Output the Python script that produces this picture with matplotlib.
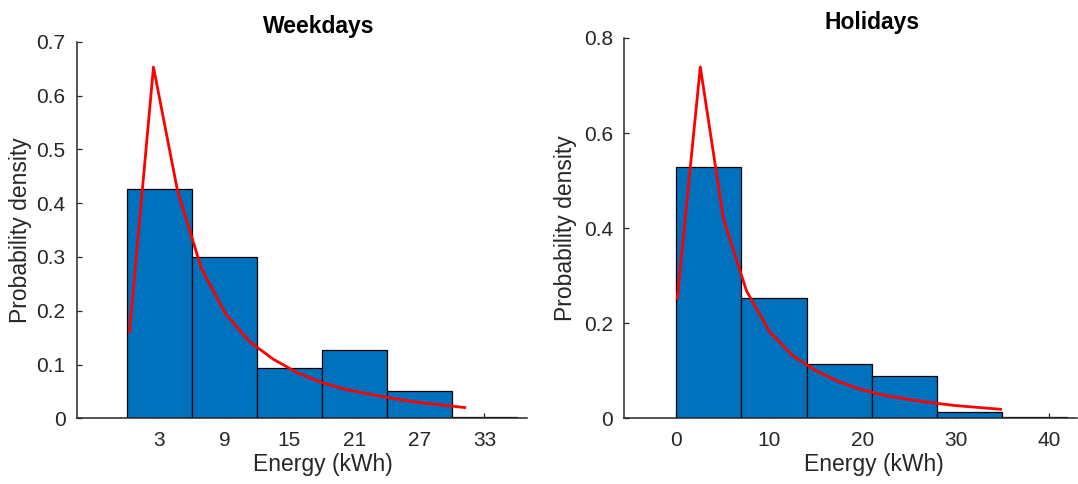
import matplotlib
matplotlib.use("Agg")
import matplotlib.pyplot as plt

plt.rcParams['font.family'] = ['Liberation Sans', 'DejaVu Sans']

# Weekdays histogram (bin edges in kWh, probability per bin)
wk_edges = [0, 6, 12, 18, 24, 30, 36]
wk_heights = [0.426, 0.299, 0.093, 0.127, 0.050, 0.002]
# fitted pdf, sampled points
wk_fit_x = [0.24, 2.45, 4.66, 6.87, 9.08, 11.29, 13.50, 15.71, 17.92, 20.13,
            22.34, 24.55, 26.76, 28.97, 31.18]
wk_fit_y = [0.161, 0.653, 0.424, 0.279, 0.195, 0.143, 0.110, 0.085, 0.067, 0.054,
            0.045, 0.037, 0.030, 0.025, 0.020]
wk_xticks = [3, 9, 15, 21, 27, 33]
wk_yticks = [0, 0.1, 0.2, 0.3, 0.4, 0.5, 0.6, 0.7]

# Holidays histogram
hd_edges = [0, 7, 14, 21, 28, 35, 42]
hd_heights = [0.529, 0.252, 0.114, 0.090, 0.014, 0.002]
hd_fit_x = [0.10, 2.58, 5.06, 7.54, 10.02, 12.50, 14.98, 17.46, 19.94, 22.42,
            24.90, 27.38, 29.86, 32.34, 34.82]
hd_fit_y = [0.252, 0.739, 0.420, 0.268, 0.182, 0.132, 0.100, 0.077, 0.060, 0.048,
            0.040, 0.033, 0.027, 0.023, 0.019]
hd_xticks = [0, 10, 20, 30, 40]
hd_yticks = [0, 0.2, 0.4, 0.6, 0.8]

BAR = '#0072BD'
AXC = '#262626'

fig = plt.figure(figsize=(10.78, 4.84), dpi=100)
ax1 = fig.add_axes([0.0711, 0.1357, 0.4175, 0.778])
ax2 = fig.add_axes([0.5788, 0.1357, 0.420, 0.786])


def draw(ax, edges, heights, fx, fy, xticks, yticks, xlim, ylim, title, tx, lx):
    widths = [b - a for a, b in zip(edges[:-1], edges[1:])]
    ax.bar(edges[:-1], heights, width=widths, align='edge', color=BAR,
           edgecolor='black', linewidth=0.9, zorder=2)
    ax.plot(fx, fy, color='red', linewidth=2.0, zorder=3)
    ax.set_xlim(*xlim)
    ax.set_ylim(*ylim)
    ax.set_xticks(xticks)
    ax.set_yticks(yticks)
    ax.set_yticklabels([f'{v:g}' for v in yticks])
    for s in ['top', 'right']:
        ax.spines[s].set_visible(False)
    for s in ['left', 'bottom']:
        ax.spines[s].set_color(AXC)
        ax.spines[s].set_linewidth(1.1)
    ax.tick_params(direction='in', length=3.6, width=0.9, color=AXC,
                   labelcolor=AXC, labelsize=15)
    ax.tick_params(axis='y', pad=8)
    ax.tick_params(axis='x', pad=9)
    ax.set_xlabel('Energy (kWh)', fontsize=16.5, color=AXC)
    ax.xaxis.set_label_coords(lx, -0.092)
    ax.set_ylabel('Probability density', fontsize=16.5, color=AXC)
    ax.text(tx, 1.023, title, transform=ax.transAxes, ha='center',
            va='baseline', fontsize=16.5, fontweight='bold', color='black')


draw(ax1, wk_edges, wk_heights, wk_fit_x, wk_fit_y, wk_xticks, wk_yticks,
     (-4.64, 36.9), (0, 0.7), 'Weekdays', 0.538, 0.546)
ax1.yaxis.set_label_coords(-0.10, 0.5)

draw(ax2, hd_edges, hd_heights, hd_fit_x, hd_fit_y, hd_xticks, hd_yticks,
     (-5.62, 43.0), (0, 0.8), 'Holidays', 0.548, 0.552)
ax2.yaxis.set_label_coords(-0.104, 0.5)

fig.savefig('out.png', dpi=100)
